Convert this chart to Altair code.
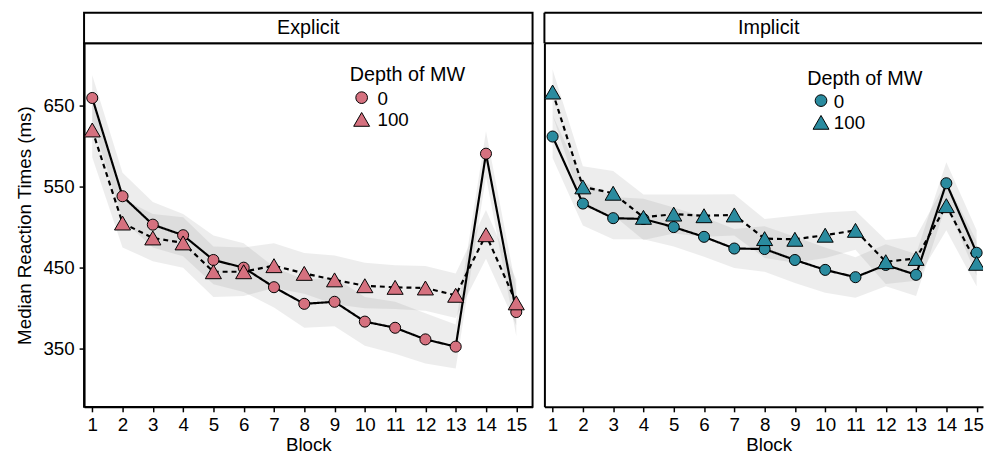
import altair as alt
import pandas as pd

blocks = list(range(1, 16))
depth_levels = ["0", "100"]
conditions = ["Explicit", "Implicit"]
y_ticks = [350, 450, 550, 650]
legend_title = "Depth of MW"

explicit_0 = [659, 538, 503, 490, 459.5, 450, 426, 405.5, 408, 383.6, 376, 361.7, 352.8, 590.4, 395.4]
explicit_0_lo = [631, 509, 475, 464, 429.5, 420, 401, 376, 378, 354, 344, 332, 326, 562, 366]
explicit_0_hi = [687, 567, 531, 516, 489.5, 480, 451, 435, 438, 414, 408, 394, 380, 618, 424]

explicit_100 = [619.6, 505, 486.6, 480.5, 445, 445, 452.5, 443, 435, 427.8, 425.8, 425, 416, 490.6, 406.7]
explicit_100_lo = [586, 475, 458, 450, 414, 415, 425, 418, 405, 400, 399, 397, 388, 461, 379]
explicit_100_hi = [654, 535, 516, 512, 476, 475, 480, 468, 465, 456, 453, 452, 443, 521, 435]

implicit_0 = [611.5, 529, 511, 510, 500, 488, 473.6, 473, 459.5, 447.3, 438.3, 453.4, 441.2, 554, 468.4]
implicit_0_lo = [585, 502, 485, 485, 476, 463.5, 449.6, 445, 431, 419, 413, 427, 415, 528, 440]
implicit_0_hi = [638, 556, 537, 535, 524, 512.5, 497.6, 501, 488, 475, 463, 479, 467, 580, 496]

implicit_100 = [666.3, 549.5, 541.7, 512, 516, 514, 515, 485.8, 485, 490, 496, 457.4, 461.4, 526.4, 455.4]
implicit_100_lo = [638, 524, 515, 484, 492, 488, 489.5, 462, 456, 462, 472, 430, 434, 496, 427]
implicit_100_hi = [694, 575, 569, 540, 540, 540, 540.5, 510, 514, 518, 520, 484, 488, 556, 483]

series = [
    ("Explicit", "0", explicit_0, explicit_0_lo, explicit_0_hi),
    ("Explicit", "100", explicit_100, explicit_100_lo, explicit_100_hi),
    ("Implicit", "0", implicit_0, implicit_0_lo, implicit_0_hi),
    ("Implicit", "100", implicit_100, implicit_100_lo, implicit_100_hi),
]
rows = []
for cond, dep, vals, lo, hi in series:
    for b, v, l, h in zip(blocks, vals, lo, hi):
        rows.append({"condition": cond, "depth": dep, "block": b, "rt": v, "lo": l, "hi": h})
df = pd.DataFrame(rows)

PINK = "#d5717f"
TEAL = "#2a8b9f"
FONT = "Liberation Sans"
FS = 19
FS_BIG = 20
FS_KEY = 19
PANEL_H = 368
STRIP_H = 31
FULL_W = 454
PX_PER_UNIT = 0.822
Y_TOP = 726.3
Y_DOMAIN = [Y_TOP - PANEL_H / PX_PER_UNIT, Y_TOP]
X_MIN = 0.73
PX_PER_BLOCK = 30.66

shape_scale = alt.Scale(domain=depth_levels, range=["circle", "triangle-up"])


def legend_layers(fill, lx, ly_title, ly0, ly1, sym_x, lab_x):
    """Hand-drawn key (title, two symbols, two labels) inside the panel."""
    title_df = pd.DataFrame({"t": [legend_title]})
    title = alt.Chart(title_df).mark_text(
        fontSize=FS_BIG, font=FONT, color="black", align="left", baseline="alphabetic"
    ).encode(x=alt.value(lx), y=alt.value(ly_title), text="t:N")
    out = [title]
    for dep, yy, sz in zip(depth_levels, [ly0, ly1], [140, 260]):
        kdf = pd.DataFrame({"depth": [dep]})
        sym = alt.Chart(kdf).mark_point(
            filled=True, fill=fill, stroke="black", strokeWidth=1, opacity=1, size=sz
        ).encode(x=alt.value(sym_x), y=alt.value(yy),
                 shape=alt.Shape("depth:N", scale=shape_scale, legend=None))
        lab = alt.Chart(kdf).mark_text(
            fontSize=FS_KEY, font=FONT, color="black", align="left", baseline="middle"
        ).encode(x=alt.value(lab_x), y=alt.value(yy + 1), text="depth:N")
        out += [sym, lab]
    return out


def panel(cond, fill, width, first, key):
    d = df[df["condition"] == cond]
    xmax = X_MIN + width / PX_PER_BLOCK
    xscale = alt.Scale(domain=[X_MIN, xmax], nice=False, zero=False)
    yscale = alt.Scale(domain=Y_DOMAIN, nice=False, zero=False)
    if first:
        xaxis = alt.Axis(values=blocks, title="Block", titleX=FULL_W / 2, labelPadding=4,
                         titlePadding=1, labelFlush=False)
        yaxis = alt.Axis(values=y_ticks, title="Median Reaction Times (ms)",
                         labelPadding=5, titlePadding=9)
    else:
        xaxis = alt.Axis(values=blocks, title="Block", titleX=FULL_W / 2, labelPadding=4,
                         titlePadding=1, labelFlush=8, labelFlushOffset=7)
        yaxis = alt.Axis(values=y_ticks, labels=False, ticks=False, title=None)

    base = alt.Chart(d)
    X = alt.X("block:Q", scale=xscale, axis=xaxis)
    ribbons = base.mark_area(orient="vertical", fill="#7f7f7f", fillOpacity=0.14,
                             clip=True).encode(
        x=X,
        y=alt.Y("lo:Q", scale=yscale, axis=yaxis),
        y2="hi:Q",
        detail="depth:N",
    )
    lines = base.mark_line(color="black", strokeWidth=2.2, clip=True).encode(
        x=X,
        y=alt.Y("rt:Q", scale=yscale, axis=yaxis),
        strokeDash=alt.StrokeDash("depth:N", scale=alt.Scale(domain=depth_levels,
                                  range=[[1, 0], [5, 4]]), legend=None),
    )
    points = base.mark_point(filled=True, fill=fill, stroke="black", strokeWidth=1,
                             opacity=1, clip=True).encode(
        x=X,
        y=alt.Y("rt:Q", scale=yscale, axis=yaxis),
        shape=alt.Shape("depth:N", scale=shape_scale, legend=None),
        size=alt.Size("depth:N", scale=alt.Scale(domain=depth_levels, range=[125, 265]),
                      legend=None),
    )

    sd = pd.DataFrame({"label": [cond]})
    strip_text = alt.Chart(sd).mark_text(fontSize=FS_BIG, font=FONT, color="black",
                                         baseline="middle", align="center").encode(
        x=alt.value(FULL_W / 2), y=alt.value(-STRIP_H / 2), text="label:N")
    keys = legend_layers(fill, *key)
    if first:
        strip_bg = alt.Chart(sd).mark_rect(fill="white", stroke="black", strokeWidth=2).encode(
            x=alt.value(0), x2=alt.value(width), y=alt.value(-STRIP_H), y2=alt.value(0))
        layers = [ribbons, lines, points, strip_bg, strip_text] + keys
        return alt.layer(*layers).properties(width=width, height=PANEL_H)
    strip_bg = alt.Chart(sd).mark_rect(fill="white", strokeOpacity=0).encode(
        x=alt.value(0), x2=alt.value(width - 1), y=alt.value(-STRIP_H), y2=alt.value(0))
    rule_top = alt.Chart(sd).mark_rule(color="black", strokeWidth=2).encode(
        x=alt.value(0), x2=alt.value(width - 1), y=alt.value(-STRIP_H))
    rule_mid = alt.Chart(sd).mark_rule(color="black", strokeWidth=2).encode(
        x=alt.value(0), x2=alt.value(width - 1), y=alt.value(0))
    rule_left = alt.Chart(sd).mark_rule(color="black", strokeWidth=2).encode(
        x=alt.value(0), y=alt.value(-STRIP_H), y2=alt.value(0))
    layers = [ribbons, lines, points, strip_bg, rule_top, rule_mid, rule_left,
              strip_text] + keys
    return alt.layer(*layers).properties(
        width=width, height=PANEL_H,
        view=alt.ViewBackground(stroke="transparent"))


# key positions: (title x, title baseline y, row-1 y, row-2 y, symbol x, label x)
left = panel("Explicit", PINK, FULL_W, True, (269, 38.5, 55, 77, 281, 297))
right = panel("Implicit", TEAL, 444, False, (266, 42, 58, 80, 280, 293))

chart = alt.hconcat(left, right, spacing=8).resolve_scale(
    x="independent", y="independent", shape="independent", size="independent",
    strokeDash="independent"
).properties(
    padding={"left": 6, "top": 0, "right": 0, "bottom": 0}
).configure(font=FONT).configure_view(
    stroke="black", strokeWidth=2
).configure_axis(
    domainColor="black", domainWidth=2, tickColor="black", tickWidth=1.5, tickSize=5,
    labelFontSize=FS, labelColor="black", labelFont=FONT, titleFont=FONT,
    titleFontSize=FS, titleFontWeight="normal", titleColor="black", grid=False
)

chart.save("out.html", embed_options={"renderer": "svg", "actions": False})
